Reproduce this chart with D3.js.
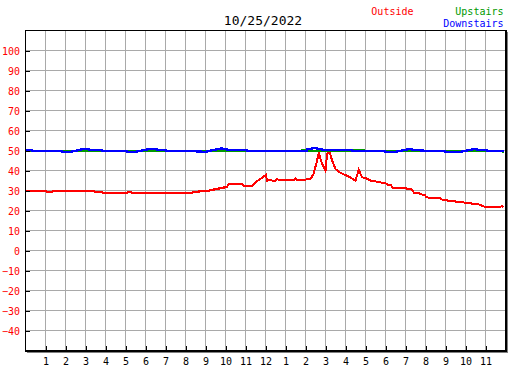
<!DOCTYPE html>
<html>
<head>
<meta charset="utf-8">
<script src="https://cdn.jsdelivr.net/npm/d3@7"></script>
<style>
  html, body { margin: 0; padding: 0; background: #ffffff; }
  svg { display: block; }
  text { font-family: "DejaVu Sans Mono", "Liberation Mono", monospace; }
</style>
</head>
<body>
<svg id="chart" width="527" height="370"></svg>
<script>
// ---------------- data ----------------
const chartTitle = "10/25/2022";
const seriesNames = ["Outside", "Upstairs", "Downstairs"];

const xTickValues = [1,2,3,4,5,6,7,8,9,10,11,12,13,14,15,16,17,18,19,20,21,22,23];
const xTickLabels = ["1","2","3","4","5","6","7","8","9","10","11","12","1","2","3","4","5","6","7","8","9","10","11"];
const yTickValues = [100,90,80,70,60,50,40,30,20,10,0,-10,-20,-30,-40];

// Outside temperature (hour of day, degrees)
const outsideHours = [0,1.03,1.06,1.33,1.36,3.45,3.48,3.83,3.86,5.08,5.11,5.30,5.33,7.25,7.33,7.50,7.91,7.95,8.33,8.36,8.66,8.69,9.16,9.19,9.41,9.44,9.66,9.69,9.91,9.94,10.08,10.15,10.83,10.90,11.33,11.50,11.75,11.91,12.02,12.08,12.27,12.33,12.50,12.57,12.67,13.46,13.51,13.58,14.00,14.05,14.25,14.40,14.58,14.66,14.83,15.00,15.08,15.20,15.33,15.50,15.75,16.00,16.25,16.41,16.50,16.66,16.83,17.00,17.25,17.50,17.60,17.88,18.00,18.10,18.25,18.35,19.00,19.05,19.30,19.42,19.66,19.72,19.97,20.02,20.17,20.72,20.77,21.07,21.16,21.51,21.56,22.25,22.35,22.75,22.80,22.95,23.75,23.80,23.90];
const outsideTemps = [30.0,30.0,29.5,29.5,30.0,30.0,29.5,29.5,29.0,29.0,29.5,29.5,29.0,29.0,28.8,28.8,28.8,29.2,29.2,29.5,29.5,30.0,30.0,30.4,30.4,31.0,31.0,31.5,31.5,32.2,32.2,33.6,33.6,32.7,32.7,34.4,36.0,37.2,38.2,35.2,35.6,35.2,35.2,36.0,35.6,35.6,36.4,35.6,35.6,36.0,36.0,38.6,45.2,49.0,43.6,40.2,48.6,49.6,45.2,41.0,39.0,38.0,36.8,35.6,35.2,40.6,36.8,36.6,35.2,34.8,34.6,34.0,34.0,33.2,33.2,31.6,31.6,31.0,30.8,29.2,29.2,28.4,28.0,27.2,26.6,26.6,25.8,25.4,24.9,24.9,24.3,24.2,23.5,23.2,22.7,22.1,22.1,22.4,22.1];

// Upstairs (step values: each value holds from its hour to the next)
const upstairsHours = [0,13.83,14.08,16.33,16.92,23.85,23.90];
const upstairsTemps = [50,50.5,50,50.5,50,49.5,49.5];

// Downstairs (step values)
const downstairsHours = [0,0.3,1.83,2.33,2.55,2.75,3.17,3.83,5.05,5.58,5.83,6.08,6.58,7.03,8.58,8.67,8.75,9.08,9.25,9.5,9.78,9.83,10.08,11.08,14.08,14.33,14.58,14.83,16.33,17.97,18.58,18.83,19.08,19.33,19.75,19.8,19.85,20.97,21.83,22.05,22.33,22.58,23.08,23.9];
const downstairsTemps = [50.5,50,49.5,50,50.5,51,50.5,50,49.5,50,50.5,51,50.5,50,49.5,50,49.5,50,50.5,51,51.5,51,50.5,50,51,51.5,51,50.5,50,49.5,50,50.5,51,50.5,50,50.5,50,49.5,50,50.5,51,50.5,50,50];

// ---------------- drawing ----------------
const svg = d3.select("#chart");
const x = d3.scaleLinear().domain([0, 24]).range([25.5, 505.5]);
const y = d3.scaleLinear().domain([-50, 110]).range([350.5, 30.5]);

const gridColor = "#a9a9a9";
const colors = { Outside: "#ff0000", Upstairs: "#009900", Downstairs: "#0000ff" };

// grid
const grid = svg.append("g").attr("stroke", gridColor).attr("stroke-width", 1).attr("shape-rendering", "crispEdges");
grid.selectAll("line.v").data(xTickValues).join("line")
  .attr("x1", d => x(d)).attr("x2", d => x(d))
  .attr("y1", y(110)).attr("y2", y(-50));
grid.selectAll("line.h").data(yTickValues).join("line")
  .attr("x1", x(0)).attr("x2", x(24))
  .attr("y1", d => y(d)).attr("y2", d => y(d));

// series lines
const lineLayer = svg.append("g").attr("transform", "translate(0,0.5)");
function drawSeries(hours, temps, color, curve) {
  const pts = hours.map((h, i) => [h, temps[i]]);
  const gen = d3.line().x(d => x(d[0])).y(d => y(d[1])).curve(curve);
  lineLayer.append("path")
    .attr("d", gen(pts))
    .attr("fill", "none")
    .attr("stroke", color)
    .attr("stroke-width", 2)
    .attr("shape-rendering", "crispEdges");
}
drawSeries(outsideHours, outsideTemps, colors.Outside, d3.curveLinear);
drawSeries(upstairsHours, upstairsTemps, colors.Upstairs, d3.curveStepAfter);
drawSeries(downstairsHours, downstairsTemps, colors.Downstairs, d3.curveStepAfter);

// frame
const frame = svg.append("g").attr("shape-rendering", "crispEdges");
frame.append("line").attr("x1", 25).attr("x2", 507).attr("y1", 30.5).attr("y2", 30.5).attr("stroke", "#000");
frame.append("line").attr("x1", 25.5).attr("x2", 25.5).attr("y1", 30).attr("y2", 352).attr("stroke", "#000");
frame.append("line").attr("x1", 506).attr("x2", 506).attr("y1", 30).attr("y2", 352).attr("stroke", "#000").attr("stroke-width", 2);
frame.append("line").attr("x1", 25).attr("x2", 507).attr("y1", 351).attr("y2", 351).attr("stroke", "#000").attr("stroke-width", 2);
frame.append("line").attr("x1", 507.5).attr("x2", 507.5).attr("y1", 32).attr("y2", 353).attr("stroke", "#808080");
frame.append("line").attr("x1", 27).attr("x2", 508).attr("y1", 352.5).attr("y2", 352.5).attr("stroke", "#808080");

// y axis
const yAxis = d3.axisLeft(y).tickValues(yTickValues).tickSizeInner(4).tickSizeOuter(0).tickPadding(6);
const yg = svg.append("g").attr("transform", "translate(30,0)").call(yAxis);
yg.select(".domain").remove();
yg.selectAll(".tick line").attr("stroke", "#000").attr("shape-rendering", "crispEdges");
yg.selectAll(".tick text").attr("fill", "#ff0000").attr("font-size", 10)
  .attr("font-family", "DejaVu Sans Mono").attr("dy", "0.42em");

// x axis
const xAxis = d3.axisBottom(x).tickValues(xTickValues).tickSize(-4).tickFormat((d, i) => xTickLabels[i]);
const xg = svg.append("g").attr("transform", "translate(0,350)").call(xAxis);
xg.select(".domain").remove();
xg.selectAll(".tick line").attr("stroke", "#000").attr("shape-rendering", "crispEdges");
xg.selectAll(".tick text").attr("fill", "#000").attr("font-size", 10)
  .attr("font-family", "DejaVu Sans Mono").attr("y", 14.5).attr("dy", 0);

// title
svg.append("text").attr("x", 263).attr("y", 25).attr("text-anchor", "middle")
  .attr("font-size", 13).attr("fill", "#000").text(chartTitle);

// legend
svg.append("text").attr("x", 413.5).attr("y", 15).attr("text-anchor", "end")
  .attr("font-size", 10).attr("fill", colors.Outside).text(seriesNames[0]);
svg.append("text").attr("x", 503.5).attr("y", 15).attr("text-anchor", "end")
  .attr("font-size", 10).attr("fill", colors.Upstairs).text(seriesNames[1]);
svg.append("text").attr("x", 503.5).attr("y", 27).attr("text-anchor", "end")
  .attr("font-size", 10).attr("fill", colors.Downstairs).text(seriesNames[2]);
</script>
</body>
</html>
